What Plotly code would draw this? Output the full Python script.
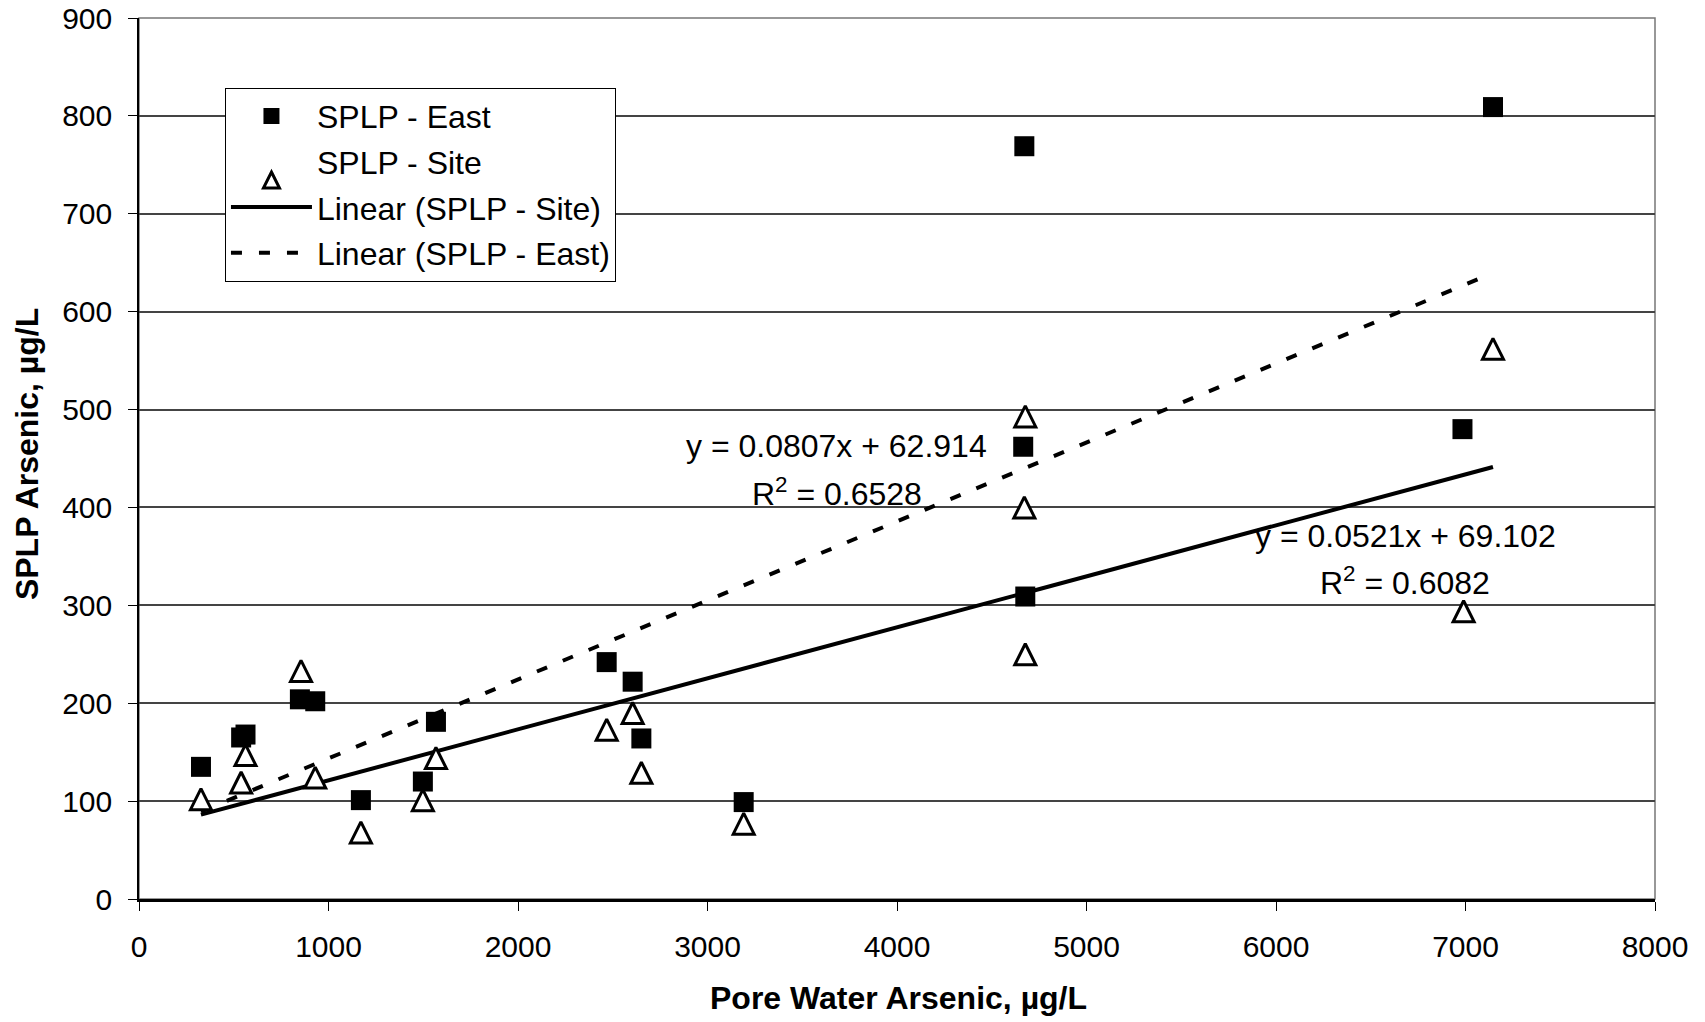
import plotly.graph_objects as go

# ---- data ----
east_x = [327, 539, 562, 849, 930, 1171, 1498, 1567, 2468, 2605, 2651, 3191, 4666, 4672, 4677, 6984, 7145]
east_y = [135, 165, 168, 204, 202, 101, 120, 181, 242, 222, 164, 99, 462, 769, 309, 480, 809]

site_x = [327, 539, 562, 855, 930, 1171, 1498, 1567, 2468, 2605, 2651, 3191, 4677, 4672, 4677, 6990, 7145]
site_y = [102, 119, 147, 233, 124, 68, 101, 144, 173, 190, 129, 77, 493, 400, 250, 294, 562]

# trendline coefficients as printed on the chart
site_slope, site_intercept, site_r2 = 0.0521, 69.102, 0.6082
east_slope, east_intercept, east_r2 = 0.0807, 62.914, 0.6528

x_ticks = [0, 1000, 2000, 3000, 4000, 5000, 6000, 7000, 8000]
y_ticks = [0, 100, 200, 300, 400, 500, 600, 700, 800, 900]

FONT = "Liberation Sans, Arial, Helvetica, sans-serif"
TITLE_FONT = "Liberation Sans Narrow, Arial Narrow, Liberation Sans, Arial, sans-serif"

def line_pts(xs, m, b):
    x0, x1 = min(xs), max(xs)
    return [x0, x1], [m * x0 + b, m * x1 + b]

sx, sy = line_pts(site_x, site_slope, site_intercept)
ex, ey = line_pts(east_x, east_slope, east_intercept)

fig = go.Figure()

fig.add_trace(go.Scatter(
    x=sx, y=sy, mode="lines", name="Linear (SPLP - Site)",
    line=dict(color="black", width=4), legendrank=3, legendgroup="c"))
fig.add_trace(go.Scatter(
    x=ex, y=ey, mode="lines", name="Linear (SPLP - East)",
    line=dict(color="black", width=4, dash="11px,17px"), legendrank=4, legendgroup="d"))
fig.add_trace(go.Scatter(
    x=east_x, y=east_y, mode="markers", name="SPLP - East",
    marker=dict(symbol="square", size=20, color="black", line=dict(width=0)),
    legendrank=1, legendgroup="a"))
fig.add_trace(go.Scatter(
    x=site_x, y=site_y, mode="markers", name="SPLP - Site",
    marker=dict(symbol="arrow-down", angle=180, standoff=10.5, size=21, color="white",
                line=dict(color="black", width=3)),
    legendrank=2, legendgroup="b"))

ann_font = dict(family=FONT, size=32, color="black")
annotations = [
    dict(x=3683, y=463, xref="x", yref="y", text=f"y = {east_slope}x + {east_intercept}",
         showarrow=False, font=ann_font),
    dict(x=3683, y=416, xref="x", yref="y", text=f"R<sup>2</sup> = {east_r2}",
         showarrow=False, font=ann_font),
    dict(x=6681, y=371, xref="x", yref="y", text=f"y = {site_slope}x + {site_intercept}",
         showarrow=False, font=ann_font),
    dict(x=6681, y=325, xref="x", yref="y", text=f"R<sup>2</sup> = {site_r2}",
         showarrow=False, font=ann_font),
    dict(x=0.5007, y=-0.1124, xref="paper", yref="paper", text="<b>Pore Water Arsenic, µg/L</b>",
         showarrow=False, font=dict(family=TITLE_FONT, size=32, color="black"),
         xanchor="center", yanchor="middle"),
    dict(x=-0.0739, y=0.505, xref="paper", yref="paper", text="<b>SPLP Arsenic, µg/L</b>",
         showarrow=False, textangle=-90, font=dict(family=TITLE_FONT, size=32, color="black"),
         xanchor="center", yanchor="middle"),
]

fig.update_layout(
    width=1697, height=1014,
    margin=dict(l=131, r=50, t=10, b=123, autoexpand=False),
    paper_bgcolor="white", plot_bgcolor="white",
    font=dict(family=FONT, size=30, color="black"),
    showlegend=True,
    legend=dict(x=0.0567, y=0.921, xanchor="left", yanchor="top",
                bordercolor="black", borderwidth=1, bgcolor="white",
                font=dict(family=FONT, size=32, color="black"),
                tracegroupgap=1, traceorder="grouped", itemwidth=81),
    annotations=annotations,
    shapes=[dict(type="rect", xref="paper", yref="paper", x0=0, y0=0, x1=1, y1=1,
                 line=dict(color="#777", width=1.5), layer="below")],
)

fig.update_xaxes(
    range=[0, 8000], tickvals=x_ticks, ticktext=[str(v) for v in x_ticks],
    showgrid=False, zeroline=False, automargin=False, ticklabeloverflow="allow",
    showline=True, linecolor="black", linewidth=2.5,
    ticks="outside", ticklen=9, tickwidth=1, tickcolor="black",
    ticklabelstandoff=10,
    tickfont=dict(family=FONT, size=30, color="black"),
)
fig.update_yaxes(
    range=[0, 900], tickvals=y_ticks, ticktext=[str(v) for v in y_ticks],
    showgrid=True, gridcolor="#444", gridwidth=1.5, zeroline=False, automargin=False,
    ticklabeloverflow="allow",
    showline=True, linecolor="black", linewidth=1.5,
    ticks="outside", ticklen=9, tickwidth=1, tickcolor="black",
    ticklabelstandoff=10,
    tickfont=dict(family=FONT, size=30, color="black"),
)

fig.write_html("out.html")
